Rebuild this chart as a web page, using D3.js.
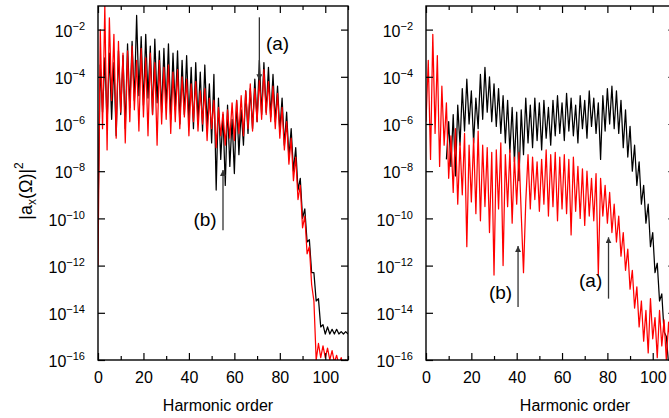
<!DOCTYPE html>
<html>
<head>
<meta charset="utf-8">
<script src="https://cdn.jsdelivr.net/npm/d3@7"></script>
<style>
body { margin: 0; background: #fff; }
text { font-family: "Liberation Sans", Arial, Helvetica, sans-serif; fill: #000; }
</style>
</head>
<body>
<div class="container"></div>
<script>
const WIDTH = 669;
const HEIGHT = 418;
const TOP = 6;
const BOTTOM = 360;

// harmonic orders 0..110, values are log10 |a_x|^2
const ORDERS = d3.range(0, 111);

const LEFT_BLACK = [
  -10, -3.5, -5.5, -3.2, -6.0, -3.0, -5.8, -3.4, -6.5, -2.9,
  -5.6, -3.1, -6.2, -2.6, -5.3, -2.5, -5.0, -1.4, -4.8, -2.3,
  -5.2, -2.2, -4.9, -2.7, -5.6, -2.4, -5.1, -2.9, -5.5, -2.8,
  -5.3, -2.6, -5.8, -3.0, -5.4, -2.9, -6.0, -3.3, -5.6, -3.1,
  -5.9, -3.6, -6.2, -3.4, -5.9, -3.8, -6.3, -3.5, -6.1, -4.3,
  -6.8, -3.9, -8.8, -4.9, -7.5, -5.6, -8.6, -5.2, -7.8, -5.8,
  -8.1, -5.0, -7.3, -5.4, -6.9, -4.6, -6.4, -4.5, -6.2, -4.1,
  -5.9, -3.3, -5.6, -3.4, -5.5, -3.6, -5.7, -3.9, -5.9, -4.4,
  -6.3, -4.9, -6.9, -5.5, -7.4, -6.2, -8.0, -7.0, -8.8, -8.3,
  -10.0, -9.6, -11.0, -10.9, -12.3, -12.3, -13.5, -13.4, -14.6, -14.5,
  -14.9, -14.6, -14.9, -14.7, -14.9, -14.7, -14.9, -14.8, -14.9, -14.8,
  -14.9
];

const LEFT_RED = [
  -12, -2.0, -6.2, -1.0, -7.1, -1.5, -5.0, -2.2, -6.6, -2.5,
  -5.5, -3.0, -6.8, -2.9, -5.9, -2.7, -5.4, -3.3, -6.3, -2.8,
  -5.7, -3.2, -6.5, -3.0, -5.6, -3.4, -6.9, -3.3, -6.0, -3.6,
  -5.8, -3.5, -6.4, -3.8, -5.9, -3.7, -6.2, -4.0, -5.7, -4.1,
  -6.5, -4.3, -5.9, -4.2, -6.3, -4.6, -6.0, -4.5, -6.7, -4.9,
  -6.2, -5.0, -7.0, -5.3, -6.5, -5.5, -6.9, -5.4, -6.6, -5.1,
  -6.7, -5.0, -6.4, -4.8, -6.5, -4.6, -6.2, -4.3, -6.3, -4.5,
  -5.9, -4.1, -5.8, -3.7, -5.6, -4.2, -5.9, -4.4, -6.2, -4.7,
  -6.6, -5.3, -7.1, -5.9, -7.7, -6.6, -8.4, -7.4, -9.2, -8.6,
  -10.4, -9.9, -11.5, -11.2, -12.8, -13.5, -16.0, -15.3, -15.9, -15.4,
  -15.9, -15.5, -16.0, -15.6, -16.1, -15.8, -16.2, -15.9, -16.3, -16.0,
  -16.3
];

const RIGHT_BLACK = [
  null, null, null, null, null, null, null, null, null, -7.5,
  -5.9, -7.8, -5.6, -8.2, -5.2, -6.9, -4.5, -6.3, -4.1, -6.0,
  -4.6, -6.8, -4.9, -6.2, -3.9, -5.8, -3.6, -5.5, -4.0, -5.9,
  -4.3, -6.1, -4.5, -6.4, -4.8, -6.8, -5.0, -7.2, -5.3, -7.6,
  -5.5, -8.4, -5.4, -7.3, -4.9, -6.8, -5.2, -7.0, -4.9, -6.7,
  -5.1, -7.1, -5.0, -6.6, -5.3, -6.9, -5.0, -6.5, -4.8, -6.4,
  -5.1, -6.7, -4.7, -6.3, -4.9, -6.5, -5.2, -6.8, -4.8, -6.2,
  -5.0, -6.6, -4.6, -6.1, -4.9, -6.4, -5.1, -7.5, -4.8, -6.3,
  -4.5, -6.0, -4.4, -6.2, -4.6, -6.4, -5.0, -7.0, -5.4, -7.4,
  -6.1, -8.0, -6.9, -8.6, -7.6, -9.4, -8.6, -10.2, -9.4, -11.2,
  -10.6, -12.3, -11.9, -13.5, -13.2, -14.8, -15.0, -16.2, -16.2, -16.3,
  -16.3
];

const RIGHT_RED = [
  -5.9, -3.3, -7.5, -2.2, -6.4, -3.1, -7.8, -4.4, -6.9, -5.1,
  -8.3, -6.5, -8.9, -6.2, -9.4, -6.8, -9.0, -6.4, -11.2, -6.9,
  -9.3, -6.6, -9.8, -6.3, -10.1, -6.9, -9.5, -7.0, -10.6, -7.2,
  -12.4, -7.1, -9.6, -6.8, -12.0, -7.3, -9.5, -7.1, -10.2, -7.4,
  -9.4, -7.2, -9.8, -12.3, -9.3, -7.3, -9.6, -7.4, -9.2, -7.6,
  -9.7, -7.5, -9.4, -7.1, -9.9, -7.3, -9.5, -7.2, -10.1, -7.4,
  -9.6, -7.3, -9.8, -7.5, -10.7, -7.4, -9.7, -7.8, -10.0, -7.9,
  -10.3, -8.0, -9.9, -8.3, -10.1, -8.1, -12.4, -8.3, -9.9, -8.6,
  -10.2, -8.9, -10.6, -9.4, -11.0, -9.9, -11.6, -10.6, -12.2, -11.3,
  -13.0, -12.2, -13.8, -12.9, -14.6, -13.5, -15.2, -13.9, -15.7, -13.4,
  -15.1, -14.2, -15.9, -13.9, -15.4, -14.3, -16.0, -14.4, -15.6, -14.1,
  -15.3
];

const X_MAJOR = [0, 20, 40, 60, 80, 100];
const X_MINOR = [10, 30, 50, 70, 90, 110];
const Y_EXPONENTS = [-16, -14, -12, -10, -8, -6, -4, -2];

// arrows: label, order, tail exponent, tip exponent, text order, text exponent
const LEFT_NOTES = [
  { label: "(a)", h: 71, from: -1.48, to: -4.15, th: 79, tv: -2.86 },
  { label: "(b)", h: 55, from: -10.5, to: -7.95, th: 47.1, tv: -10.32 }
];
const RIGHT_NOTES = [
  { label: "(b)", h: 40.6, from: -13.75, to: -11.17, th: 32.9, tv: -13.42 },
  { label: "(a)", h: 80.5, from: -13.4, to: -10.8, th: 72.6, tv: -12.92 }
];

var svg = d3.select('.container').append('svg')
  .attr('width', WIDTH)
  .attr('height', HEIGHT);

svg.append('defs').append('marker')
  .attr('id', 'head')
  .attr('viewBox', '0 0 10 10')
  .attr('refX', 10).attr('refY', 5)
  .attr('markerWidth', 6).attr('markerHeight', 6)
  .attr('markerUnits', 'userSpaceOnUse')
  .attr('orient', 'auto')
  .append('path')
  .attr('d', 'M0,0L10,5L0,10z')
  .attr('fill', '#333');

var yScale = d3.scaleLog().domain([1e-16, 1e-1]).range([BOTTOM, TOP]);
var pw = function(v){ return Math.pow(10, v); };

var superLabels = function(sel){
  sel.selectAll('.tick text').each(function(d){
    var t = d3.select(this);
    var e = Math.round(Math.log10(d));
    t.text(null).attr('dy', '0.42em').style('font-size', '16px');
    t.append('tspan').text('10');
    t.append('tspan').text('\u2212' + Math.abs(e))
      .style('font-size', '11px')
      .attr('dy', '-7');
  });
};

var drawPanel = function(p, idx){
  var xScale = d3.scaleLinear().domain([0, 110]).range([p.left, p.right]);
  var g = svg.append('g');

  g.append('clipPath').attr('id', 'clip' + idx)
    .append('rect')
    .attr('x', p.left).attr('y', TOP)
    .attr('width', p.right - p.left).attr('height', BOTTOM - TOP);

  var line = d3.line()
    .defined(function(d){ return d.v !== null; })
    .x(function(d){ return xScale(d.h); })
    .y(function(d){ return yScale(pw(d.v)); });

  [[p.black, '#000'], [p.red, '#ff0000']].forEach(function(s){
    var pts = ORDERS.map(function(h, i){ return { h: h, v: s[0][i] }; });
    g.append('path')
      .attr('clip-path', 'url(#clip' + idx + ')')
      .attr('d', line(pts))
      .attr('fill', 'none')
      .attr('stroke', s[1])
      .attr('stroke-width', 1.25)
      .attr('stroke-linejoin', 'round');
  });

  // axes, ticks pointing inward on all four sides
  var yVals = Y_EXPONENTS.map(pw);
  var bottom = g.append('g').attr('transform', 'translate(0,' + BOTTOM + ')')
    .call(d3.axisBottom(xScale).tickValues(X_MAJOR).tickSize(-7).tickPadding(11.5));
  bottom.selectAll('text').style('font-size', '16px');
  g.append('g').attr('transform', 'translate(0,' + BOTTOM + ')')
    .call(d3.axisBottom(xScale).tickValues(X_MINOR).tickSize(-4).tickFormat(''));
  g.append('g').attr('transform', 'translate(0,' + TOP + ')')
    .call(d3.axisTop(xScale).tickValues(X_MAJOR).tickSize(-7).tickFormat(''));
  g.append('g').attr('transform', 'translate(0,' + TOP + ')')
    .call(d3.axisTop(xScale).tickValues(X_MINOR).tickSize(-4).tickFormat(''));
  var left = g.append('g').attr('transform', 'translate(' + p.left + ',0)')
    .call(d3.axisLeft(yScale).tickValues(yVals).tickSize(-7).tickPadding(13));
  superLabels(left);
  g.append('g').attr('transform', 'translate(' + p.right + ',0)')
    .call(d3.axisRight(yScale).tickValues(yVals).tickSize(-7).tickFormat(''));

  g.selectAll('.domain').remove();
  g.selectAll('.tick line').attr('stroke', '#000').attr('stroke-width', 1.2);

  g.append('rect')
    .attr('x', p.left).attr('y', TOP)
    .attr('width', p.right - p.left).attr('height', BOTTOM - TOP)
    .attr('fill', 'none').attr('stroke', '#000').attr('stroke-width', 1.4);

  g.append('text')
    .attr('x', p.titleX).attr('y', 411)
    .attr('text-anchor', 'middle')
    .style('font-size', '16px')
    .text('Harmonic order');

  p.notes.forEach(function(n){
    g.append('line')
      .attr('x1', xScale(n.h)).attr('x2', xScale(n.h))
      .attr('y1', yScale(pw(n.from))).attr('y2', yScale(pw(n.to)))
      .attr('stroke', '#333').attr('stroke-width', 1.3)
      .attr('marker-end', 'url(#head)');
    g.append('text')
      .attr('x', xScale(n.th)).attr('y', yScale(pw(n.tv)))
      .attr('text-anchor', 'middle')
      .style('font-size', '19px')
      .text(n.label);
  });
};

var panels = [
  { left: 98, right: 348, black: LEFT_BLACK, red: LEFT_RED, notes: LEFT_NOTES, titleX: 218 },
  { left: 426, right: 675.4, black: RIGHT_BLACK, red: RIGHT_RED, notes: RIGHT_NOTES, titleX: 575 }
];
panels.forEach(drawPanel);

// y axis title |a_x(Ω)|^2
var yt = svg.append('text')
  .attr('transform', 'translate(32,191) rotate(-90)')
  .attr('text-anchor', 'middle')
  .style('font-size', '18px');
yt.append('tspan').text('|a');
yt.append('tspan').text('x').style('font-size', '12px').attr('dy', 4);
yt.append('tspan').text('(\u03a9)|').attr('dy', -4);
yt.append('tspan').text('2').style('font-size', '12px').attr('dy', -9);
</script>
</body>
</html>
